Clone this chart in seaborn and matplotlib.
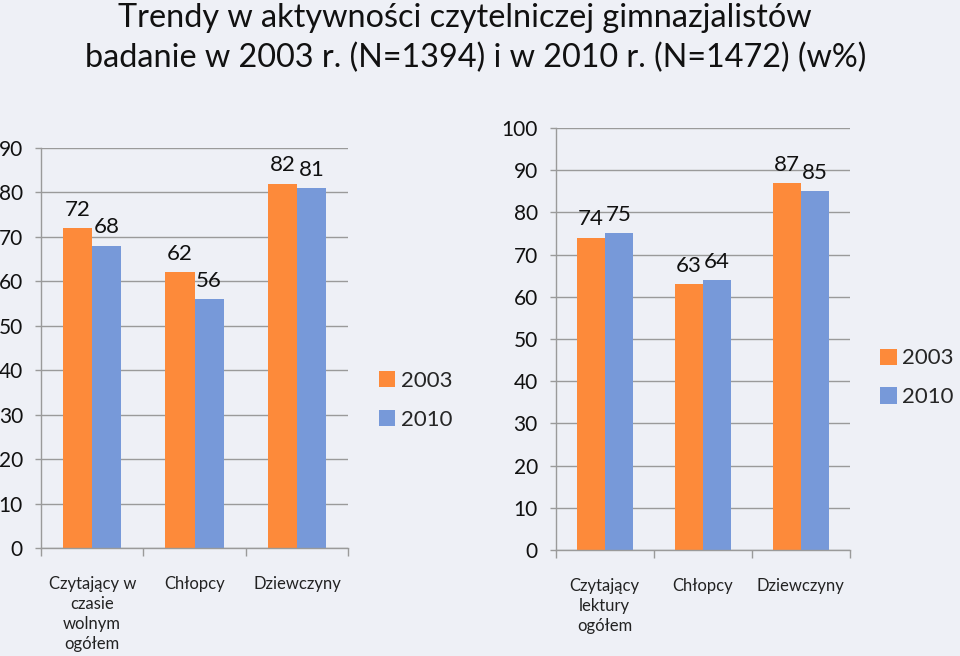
import pandas as pd
import matplotlib.pyplot as plt
import seaborn as sns

# ==================================================
# DATA
# ==================================================

lata = ["2003", "2010"]

kategorie_lewe = ["Czytający w\nczasie\nwolnym\nogółem", "Chłopcy", "Dziewczyny"]
wolny_2003 = [72, 62, 82]
wolny_2010 = [68, 56, 81]

kategorie_prawe = ["Czytający\nlektury\nogółem", "Chłopcy", "Dziewczyny"]
lektury_2003 = [74, 63, 87]
lektury_2010 = [75, 64, 85]

tytul_1 = "Trendy w aktywności czytelniczej gimnazjalistów"
tytul_2 = "badanie w 2003 r. (N=1394) i w 2010 r. (N=1472) (w%)"

# ==================================================
# STYLE
# ==================================================

sns.set_style("white")
plt.rcParams["font.family"] = ["Lato", "DejaVu Sans"]

TLO = "#eef0f6"
POMARANCZ = "#fd8a3a"
NIEBIESKI = "#7799d9"
SZARY = "#9a9a9a"


def make_df(kategorie, v2003, v2010):
    rows = []
    for k, a, b in zip(kategorie, v2003, v2010):
        rows.append([k, lata[0], a])
        rows.append([k, lata[1], b])
    return pd.DataFrame(rows, columns=["kategoria", "rok", "procent"])


def draw_panel(ax, df, kategorie, ymax, legend_xy):
    sns.barplot(
        data=df,
        x="kategoria",
        y="procent",
        hue="rok",
        order=kategorie,
        hue_order=lata,
        palette=[POMARANCZ, NIEBIESKI],
        width=0.57,
        linewidth=0,
        saturation=1,
        ax=ax
    )

    ax.set_facecolor(TLO)
    ax.set_xlim(-0.5, 2.5)
    ax.set_ylim(0, ymax)
    ax.set_yticks(range(0, ymax + 1, 10))
    ax.set_xlabel("")
    ax.set_ylabel("")

    ax.set_axisbelow(True)
    ax.yaxis.grid(True, color=SZARY, linewidth=1)

    for s in ["top", "right"]:
        ax.spines[s].set_visible(False)
    for s in ["left", "bottom"]:
        ax.spines[s].set_color(SZARY)
        ax.spines[s].set_linewidth(1)

    ax.tick_params(axis="y", length=4, color=SZARY, width=1,
                   labelsize=15, pad=9, left=True, labelcolor="#111111")
    ax.set_xticks([0, 1, 2])
    ax.set_xticklabels(kategorie, fontsize=12, linespacing=1.3,
                       va="top", color="#222222")
    ax.tick_params(axis="x", length=0, pad=20)
    ax.set_xticks([-0.5, 0.5, 1.5, 2.5], minor=True)
    ax.tick_params(axis="x", which="minor", length=6, color=SZARY,
                   width=1, bottom=True)

    for cont in ax.containers:
        ax.bar_label(cont, padding=6, fontsize=16, color="#111111")

    handles, labels = ax.get_legend_handles_labels()
    ax.get_legend().remove()
    fig.legend(
        handles, labels,
        loc="center left",
        bbox_to_anchor=legend_xy,
        frameon=False,
        fontsize=16,
        handlelength=0.75,
        handleheight=0.75,
        handletextpad=0.25,
        labelspacing=0.85,
        borderpad=0
    )


# ==================================================
# FIGURE
# ==================================================

fig = plt.figure(figsize=(9.6, 6.56), dpi=100)
fig.patch.set_facecolor(TLO)

ax1 = fig.add_axes([0.0427, 0.1646, 0.320, 0.6098])
ax2 = fig.add_axes([0.579, 0.1616, 0.306, 0.6433])

draw_panel(ax1, make_df(kategorie_lewe, wolny_2003, wolny_2010),
           kategorie_lewe, 90, (0.383, 0.39))
draw_panel(ax2, make_df(kategorie_prawe, lektury_2003, lektury_2010),
           kategorie_prawe, 100, (0.905, 0.424))

fig.text(0.484, 0.972, tytul_1, ha="center", va="center",
         fontsize=23.3, color="#111111")
fig.text(0.496, 0.911, tytul_2, ha="center", va="center",
         fontsize=23.3, color="#111111")

plt.savefig("out.png", dpi=100, facecolor=TLO)
plt.close()
